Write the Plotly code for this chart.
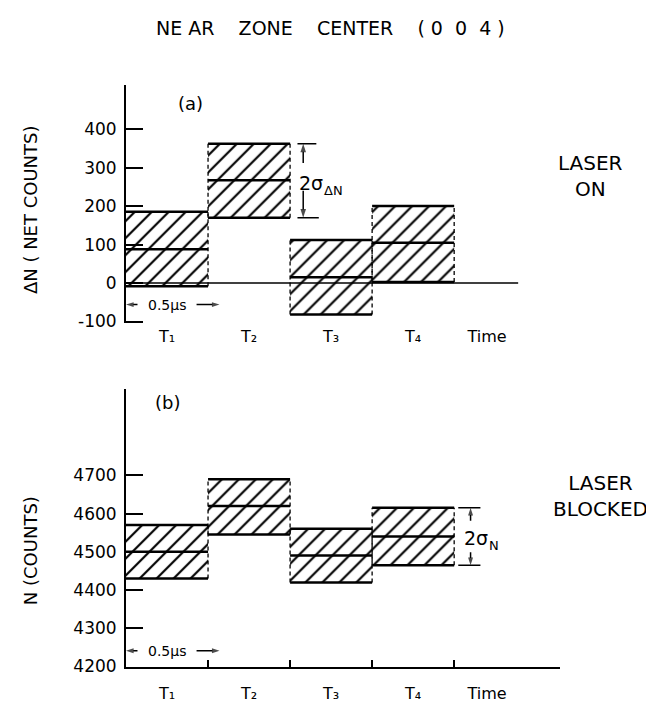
import plotly.graph_objects as go

# ---------------- data ----------------
title_text = "NE AR\u00a0\u00a0\u00a0 ZONE\u00a0\u00a0\u00a0 CENTER\u00a0\u00a0\u00a0 ( 0\u00a0 0\u00a0 4 )"
interval_labels = ["T\u2081", "T\u2082", "T\u2083", "T\u2084"]
interval_pos = [0.5, 1.5, 2.5, 3.5]
time_label = "Time"
time_pos = 4.4
interval_edges = [0, 1, 2, 3, 4]

# (a) laser on: net counts
dn_low = [-8, 170, -82, 3]
dn_mid = [88, 267, 15, 105]
dn_high = [185, 362, 112, 200]
dn_ticks = [-100, 0, 100, 200, 300, 400]
dn_ticktext = ["-100", "0", "100", "200", "300", "400"]

# (b) laser blocked: counts
n_low = [4430, 4545, 4420, 4465]
n_mid = [4500, 4620, 4490, 4540]
n_high = [4570, 4690, 4560, 4615]
n_ticks = [4200, 4300, 4400, 4500, 4600, 4700]
n_ticktext = ["4200", "4300", "4400", "4500", "4600", "4700"]

FONT = "DejaVu Sans"
W, H = 654, 704

fig = go.Figure()


def add_panel(low, mid, high, xa, ya):
    fig.add_trace(go.Bar(
        x=interval_pos, y=[h - l for h, l in zip(high, low)], base=low, width=1,
        marker=dict(color="white", line_width=0,
                    pattern=dict(shape="/", fgcolor="black", bgcolor="white", fgopacity=1,
                                 size=12, solidity=0.18)),
        xaxis=xa, yaxis=ya, showlegend=False, hoverinfo="skip"))
    for arr in (low, mid, high):
        xs, ys = [], []
        for i, v in enumerate(arr):
            xs += [interval_edges[i], interval_edges[i + 1], None]
            ys += [v, v, None]
        fig.add_trace(go.Scatter(x=xs, y=ys, mode="lines", line=dict(color="black", width=2.5),
                                 xaxis=xa, yaxis=ya, showlegend=False, hoverinfo="skip"))
    xs, ys = [], []
    for i in range(len(low)):
        for e in (interval_edges[i], interval_edges[i + 1]):
            if e == 0:
                continue
            xs += [e, e, None]
            ys += [low[i], high[i], None]
    fig.add_trace(go.Scatter(x=xs, y=ys, mode="lines", line=dict(color="black", width=1.3, dash="4px,3px"),
                             xaxis=xa, yaxis=ya, showlegend=False, hoverinfo="skip"))


add_panel(dn_low, dn_mid, dn_high, "x", "y")
add_panel(n_low, n_mid, n_high, "x2", "y2")

# zero line for panel (a)
fig.add_trace(go.Scatter(x=[0, 4.78], y=[0, 0], mode="lines", line=dict(color="black", width=1.5),
                         xaxis="x", yaxis="y", showlegend=False, hoverinfo="skip"))


def arrows(xa, ya, segs, size=9, width=1.5):
    """segs: list of (tail_x, tail_y, head_x, head_y)"""
    xs, ys, sz = [], [], []
    for tx, ty, hx, hy in segs:
        xs += [tx, hx, None]
        ys += [ty, hy, None]
        sz += [0, size, 0]
    fig.add_trace(go.Scatter(x=xs, y=ys, mode="lines+markers",
                             line=dict(color="black", width=width),
                             marker=dict(symbol="arrow", angleref="previous", size=sz, color="black",
                                         line_width=0),
                             xaxis=xa, yaxis=ya, showlegend=False, hoverinfo="skip"))


# 2-sigma arrows
arrows("x", "y", [(2.16, 312, 2.16, dn_high[1]), (2.16, 240, 2.16, dn_low[1])])
arrows("x2", "y2", [(4.2, 4581, 4.2, n_high[3]), (4.2, 4499, 4.2, n_low[3])], size=8)
# 0.5 us arrows
for xa, ya, yv in [("x", "y", -56), ("x2", "y2", 4241)]:
    arrows(xa, ya, [(0.14, yv, 0.0, yv), (0.86, yv, 1.14, yv)], size=8)

xdom = [118 / W, 552 / W]
common_x = dict(domain=xdom, range=[0, 5.29], showgrid=False, zeroline=False,
                tickvals=interval_pos + [time_pos], ticktext=interval_labels + [time_label],
                tickfont=dict(family=FONT, size=16, color="black"), fixedrange=True)
common_y = dict(showgrid=False, zeroline=False, showline=True, linecolor="black", linewidth=2,
                ticks="inside", ticklen=17, tickwidth=2, tickcolor="black",
                tickfont=dict(family=FONT, size=17, color="black"), ticklabelstandoff=4,
                fixedrange=True)

fig.update_layout(
    width=W, height=H, margin=dict(l=0, r=0, t=0, b=0),
    paper_bgcolor="white", plot_bgcolor="white", showlegend=False,
    font=dict(family=FONT, color="black"),
    xaxis=dict(**common_x, anchor="y", showline=False, ticks="", ticklabelstandoff=2),
    yaxis=dict(**common_y, domain=[1 - 320 / H, 1 - 78 / H], range=[-105, 515],
               tickvals=dn_ticks, ticktext=dn_ticktext),
    xaxis2=dict(**common_x, anchor="y2", showline=True, linecolor="black", linewidth=2, ticks="",
                ticklabelstandoff=11,
                minor=dict(tickvals=interval_edges[1:], ticks="inside", ticklen=7, tickwidth=1.5,
                           tickcolor="black")),
    yaxis2=dict(**common_y, domain=[1 - 668 / H, 1 - 386 / H], range=[4200, 4927],
                tickvals=n_ticks, ticktext=n_ticktext),
)

ann = []


def text(t, x, y, xref="paper", yref="paper", size=18, xanchor="center", angle=0, xshift=0, yshift=0):
    ann.append(dict(text=t, xref=xref, yref=yref, x=x, y=y, xanchor=xanchor, yanchor="middle",
                    textangle=angle, showarrow=False, xshift=xshift, yshift=yshift,
                    font=dict(size=size, family=FONT, color="black")))


text(title_text, 322 / W, 1 - 20 / H, size=19)
text("ΔN ( NET COUNTS)", 22 / W, 1 - 205 / H, size=18, angle=-90)
text("N (COUNTS)", 22 / W, 1 - 551 / H, size=18, angle=-90)
text("(a)", 0.79, 467, "x", "y", size=18)
text("(b)", 0.51, 4891, "x2", "y2", size=18)
text("LASER<br>ON", 582 / W, 1 - 170 / H, size=20)
text("LASER<br>BLOCKED", 592 / W, 1 - 495 / H, size=20)
# 2 sigma labels (main + subscript)
text("2σ", 2.08, dn_mid[1] - 8, "x", "y", size=19, xanchor="left")
text("ΔN", 2.08, dn_mid[1] - 8, "x", "y", size=13, xanchor="left", xshift=25, yshift=-7)
text("2σ", 4.1, n_mid[3] - 5, "x2", "y2", size=19, xanchor="left")
text("N", 4.1, n_mid[3] - 5, "x2", "y2", size=13, xanchor="left", xshift=25, yshift=-7)
for xr, yr, yv in [("x", "y", -56), ("x2", "y2", 4241)]:
    text("0.5μs", 0.5, yv, xr, yr, size=14)

shapes = []
for (xr, yr, x0, x1, v) in [("x", "y", 2.09, 2.32, dn_high[1]), ("x", "y", 2.09, 2.35, dn_low[1]),
                            ("x2", "y2", 4.05, 4.32, n_high[3]), ("x2", "y2", 4.05, 4.32, n_low[3])]:
    shapes.append(dict(type="line", xref=xr, yref=yr, x0=x0, x1=x1, y0=v, y1=v,
                       line=dict(color="black", width=1.5)))

fig.update_layout(annotations=ann, shapes=shapes)
fig.write_html("out.html")
